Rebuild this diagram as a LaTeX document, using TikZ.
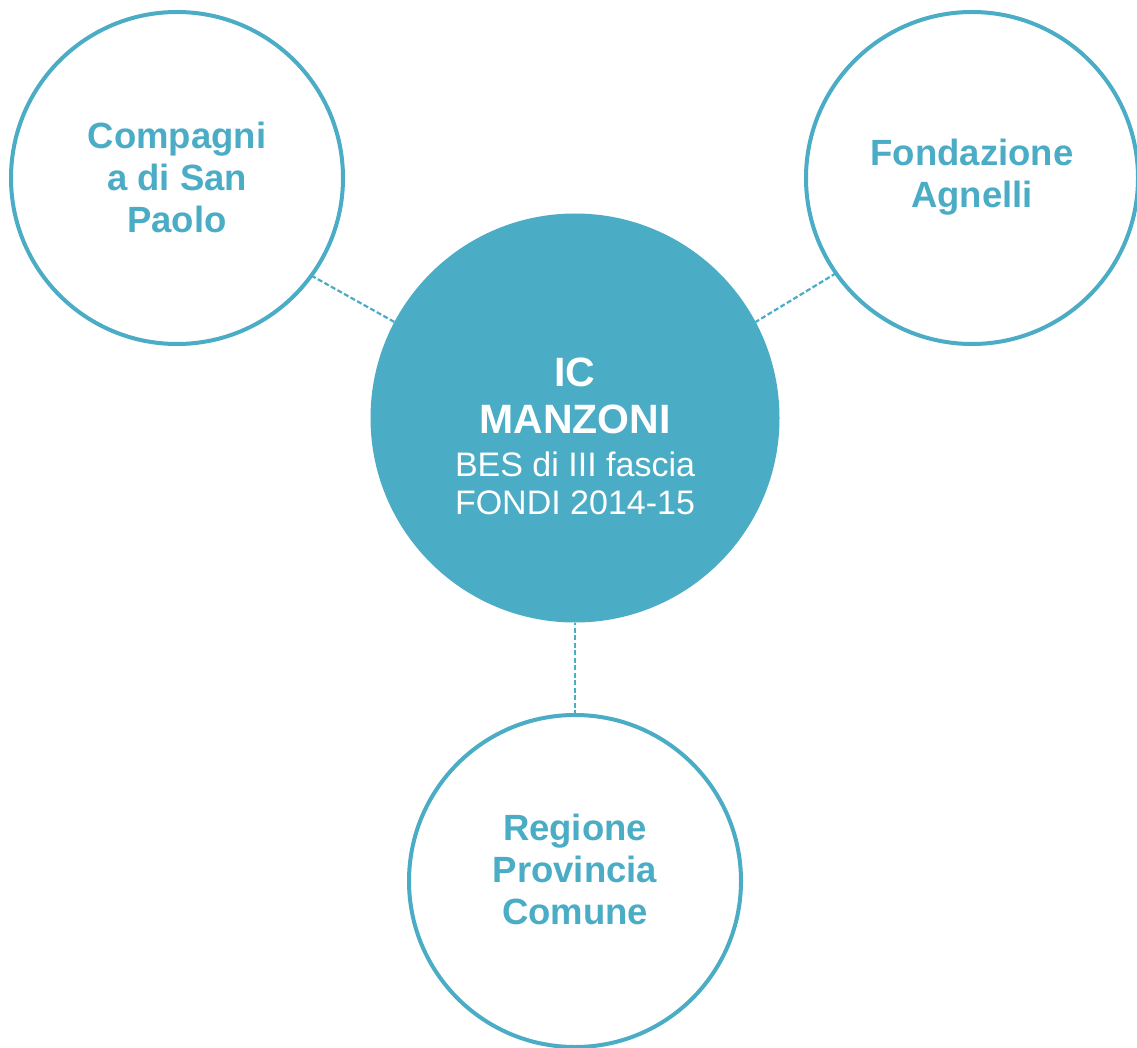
\documentclass[tikz,border=0pt]{standalone}
\usepackage{fontspec}
\setmainfont{Liberation Sans}
\definecolor{mainblue}{RGB}{75,172,198}
\begin{document}
\begin{tikzpicture}[x=1pt,y=-1pt,
  ring/.style={circle,draw=mainblue,line width=4pt,fill=white,minimum size=332pt,inner sep=0pt,outer sep=0pt},
  hub/.style={circle,fill=mainblue,minimum size=409pt,inner sep=0pt,outer sep=0pt},
  ringtext/.style={text=mainblue,align=center,font=\bfseries\fontsize{36.5}{42}\selectfont,inner sep=0pt},
  hubtext/.style={text=white,align=center,font=\bfseries\fontsize{41}{47}\selectfont,inner sep=0pt},
  link/.style={draw=mainblue,line width=2.2pt,dash pattern=on 5pt off 2.5pt}
]
\useasboundingbox[fill=white] (0,0) rectangle (1137,1048);
\node[hub] (ic) at (575,418) {};
\node[ring] (csp) at (177,178) {};
\node[ring] (fa) at (972,178) {};
\node[ring] (rpc) at (575,881) {};
\draw[link] (csp.-36.6) -- (ic.152.9);
\draw[link] (fa.-145.4) -- (ic.28.6);
\draw[link] (rpc) -- (ic);
\node[ringtext] (csptext) at (177,177) {Compagni\\a di San\\Paolo};
\node[ringtext] (fatext) at (972,177) {Fondazione\\Agnelli};
\node[ringtext] (rpctext) at (575,869) {Regione\\Provincia\\Comune};
\node[hubtext] (ictext) at (575,436.5) {IC\\MANZONI\\[-4pt]\mdseries\fontsize{34}{38}\selectfont BES di III fascia\\[-9pt]\mdseries\fontsize{34}{38}\selectfont FONDI 2014-15};
\end{tikzpicture}
\end{document}
